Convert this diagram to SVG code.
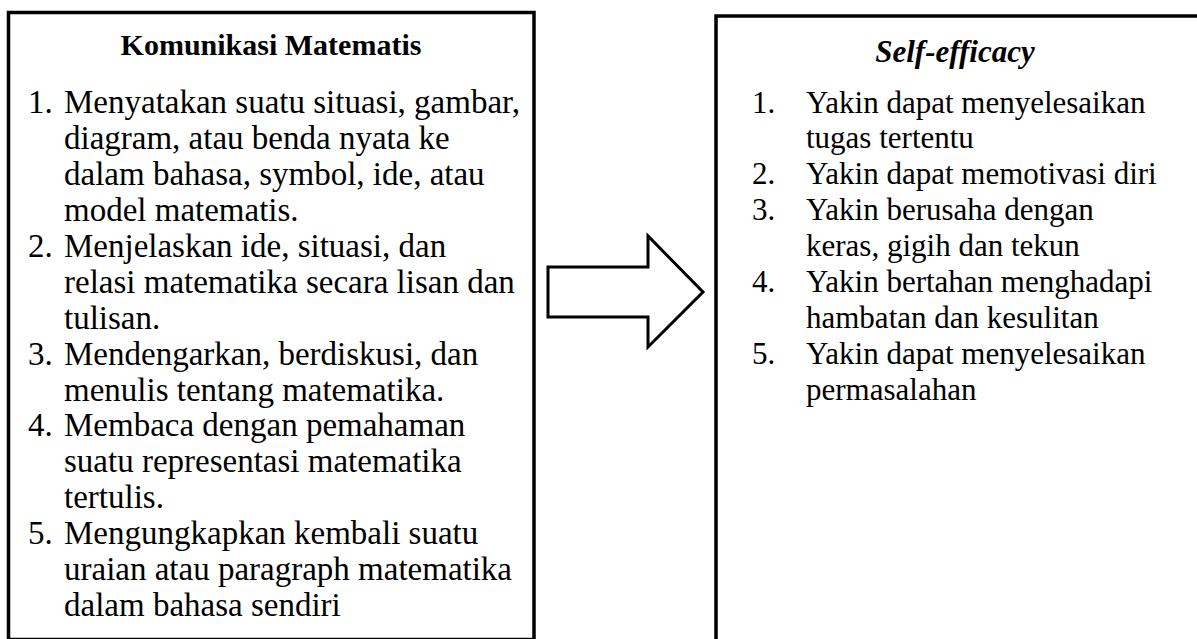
<svg xmlns="http://www.w3.org/2000/svg" width="1197" height="639" viewBox="0 0 1197 639">
<style>
.box{fill:#fff;stroke:#000;stroke-width:3.5}
.txt{font-family:'Liberation Serif','Times New Roman',serif;fill:#000}
.l{font-size:33px}
.r{font-size:31px}
.t{font-weight:bold;text-anchor:middle;font-size:30px}
.ti{font-weight:bold;font-style:italic;text-anchor:middle;font-size:31px}
</style>
<rect width="1197" height="639" fill="#fff"/>
<g id="komunikasi">
<rect class="box" x="8.5" y="12.5" width="525.5" height="627"/>
<g class="txt l">
<text class="t" x="271" y="55">Komunikasi Matematis</text>
<text x="28" y="113">1.</text>
<text x="64" y="113">Menyatakan suatu situasi, gambar,</text>
<text x="64" y="149">diagram, atau benda nyata ke</text>
<text x="64" y="185">dalam bahasa, symbol, ide, atau</text>
<text x="64" y="221">model matematis.</text>
<text x="28" y="257">2.</text>
<text x="64" y="257">Menjelaskan ide, situasi, dan</text>
<text x="64" y="293">relasi matematika secara lisan dan</text>
<text x="64" y="329">tulisan.</text>
<text x="28" y="365">3.</text>
<text x="64" y="365">Mendengarkan, berdiskusi, dan</text>
<text x="64" y="401">menulis tentang matematika.</text>
<text x="28" y="436">4.</text>
<text x="64" y="436">Membaca dengan pemahaman</text>
<text x="64" y="472">suatu representasi matematika</text>
<text x="64" y="508">tertulis.</text>
<text x="28" y="544">5.</text>
<text x="64" y="544">Mengungkapkan kembali suatu</text>
<text x="64" y="580">uraian atau paragraph matematika</text>
<text x="64" y="616">dalam bahasa sendiri</text>
</g>
</g>
<g id="connectors">
<polygon points="548,267 648,267 648,236 703,292 648,347 648,317 548,317" fill="#fff" stroke="#000" stroke-width="3"/>
</g>
<g id="selfefficacy">
<rect class="box" x="716" y="16" width="500" height="632"/>
<g class="txt r">
<text class="ti" x="955" y="62">Self-efficacy</text>
<text x="752" y="113">1.</text>
<text x="806" y="113">Yakin dapat menyelesaikan</text>
<text x="806" y="148">tugas tertentu</text>
<text x="752" y="184">2.</text>
<text x="806" y="184">Yakin dapat memotivasi diri</text>
<text x="752" y="220">3.</text>
<text x="806" y="220">Yakin berusaha dengan</text>
<text x="806" y="256">keras, gigih dan tekun</text>
<text x="752" y="292">4.</text>
<text x="806" y="292">Yakin bertahan menghadapi</text>
<text x="806" y="328">hambatan dan kesulitan</text>
<text x="752" y="364">5.</text>
<text x="806" y="364">Yakin dapat menyelesaikan</text>
<text x="806" y="400">permasalahan</text>
</g>
</g>
</svg>
